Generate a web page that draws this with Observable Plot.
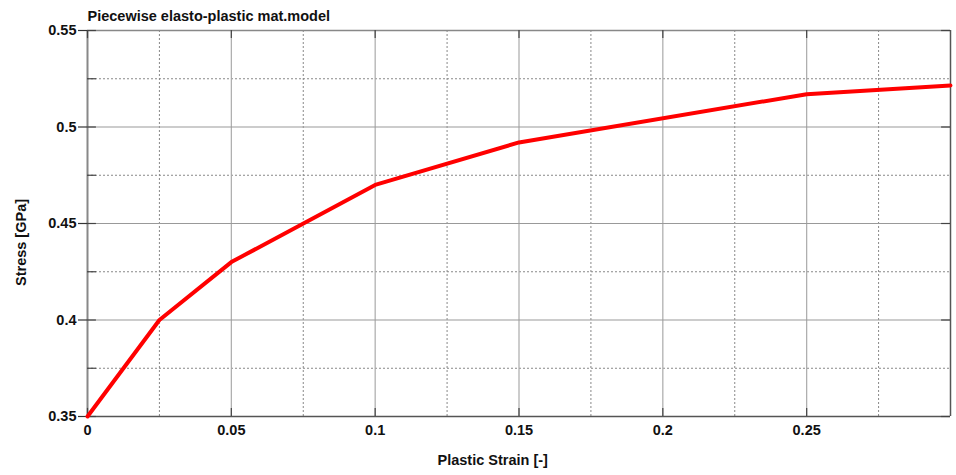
<!DOCTYPE html>
<html>
<head>
<meta charset="utf-8">
<script src="https://cdn.jsdelivr.net/npm/d3@7"></script>
<script src="https://cdn.jsdelivr.net/npm/@observablehq/plot@0.6"></script>
<style>
  html, body { margin: 0; padding: 0; background: #fff; }
  #chart svg { display: block; }
</style>
</head>
<body>
<div id="chart"></div>
<script>
const title = "Piecewise elasto-plastic mat.model";
const xLabel = "Plastic Strain [-]";
const yLabel = "Stress [GPa]";
const strain = [0, 0.025, 0.05, 0.1, 0.15, 0.25, 0.3];
const stress = [0.35, 0.40, 0.43, 0.47, 0.492, 0.517, 0.5215];
const xMajor = [0, 0.05, 0.1, 0.15, 0.2, 0.25];
const xMinor = [0.025, 0.075, 0.125, 0.175, 0.225, 0.275];
const yMajor = [0.35, 0.4, 0.45, 0.5, 0.55];
const yMinor = [0.375, 0.425, 0.475, 0.525];
const xDomain = [0, 0.3];
const yDomain = [0.35, 0.55];

const data = strain.map((x, i) => ({x, y: stress[i]}));
const font = "'Liberation Sans', Arial, sans-serif";
const tx = 0.0031;   // inner tick length in x units
const ty = 0.0042;   // inner tick length in y units

const chart = Plot.plot({
  width: 956,
  height: 475,
  marginLeft: 87,
  marginRight: 6,
  marginTop: 30,
  marginBottom: 59,
  style: {fontFamily: font, fontWeight: "bold", fontSize: "14px", color: "#111", background: "#fff"},
  x: {domain: xDomain, ticks: xMajor, tickFormat: d => String(d)},
  y: {domain: yDomain, ticks: yMajor, tickFormat: d => String(d)},
  marks: [
    // minor dashed grid
    Plot.ruleX(xMinor, {stroke: "#888", strokeWidth: 1, strokeDasharray: "2,2"}),
    Plot.ruleY(yMinor, {stroke: "#888", strokeWidth: 1, strokeDasharray: "2,2"}),
    // major solid grid
    Plot.ruleX(xMajor.slice(1), {stroke: "#aaa", strokeWidth: 1.2}),
    Plot.ruleY(yMajor.slice(1, -1), {stroke: "#999", strokeWidth: 1.2}),
    // frame
    Plot.ruleY([yDomain[1]], {stroke: "#888", strokeWidth: 1.5}),
    Plot.ruleX([xDomain[0]], {stroke: "#888", strokeWidth: 2}),
    Plot.ruleX([xDomain[1]], {stroke: "#555", strokeWidth: 1.5}),
    Plot.ruleY([yDomain[0]], {stroke: "#555", strokeWidth: 1.5}),
    // inner ticks
    Plot.ruleY(yMajor.concat(yMinor), {x1: xDomain[0], x2: xDomain[0] + tx, stroke: "#444", strokeWidth: 1.2}),
    Plot.ruleY(yMajor, {x1: xDomain[1] - tx, x2: xDomain[1], stroke: "#444", strokeWidth: 1.2}),
    Plot.ruleX(xMajor, {y1: yDomain[0], y2: yDomain[0] + ty, stroke: "#444", strokeWidth: 1.2}),
    Plot.ruleX(xMajor, {y1: yDomain[1] - ty, y2: yDomain[1], stroke: "#444", strokeWidth: 1.2}),
    // axes
    Plot.axisY({ticks: yMajor, tickFormat: d => String(d), tickSize: 9, tickPadding: 2, stroke: "#333", strokeWidth: 1.2, label: null, fontSize: 14.5, fill: "#111"}),
    Plot.axisX({ticks: xMajor, tickFormat: d => String(d), tickSize: 0, tickPadding: 8, label: null, fontSize: 14.5, fill: "#111"}),
    // line
    Plot.line(data, {x: "x", y: "y", stroke: "#ff0000", strokeWidth: 4, strokeLinejoin: "round"}),
    // title and labels
    Plot.text([title], {frameAnchor: "top-left", dx: 0, dy: -20, textAnchor: "start", fontSize: 14.5, fontWeight: "bold", fill: "#111"}),
    Plot.text([xLabel], {frameAnchor: "bottom-left", dx: 350, dy: 48, textAnchor: "start", fontSize: 14.5, fontWeight: "bold", fill: "#111"}),
    Plot.text([yLabel], {frameAnchor: "left", dx: -66, dy: 19, textAnchor: "middle", rotate: -90, fontSize: 14.5, fontWeight: "bold", fill: "#111"})
  ]
});
document.getElementById("chart").appendChild(chart);
</script>
</body>
</html>
